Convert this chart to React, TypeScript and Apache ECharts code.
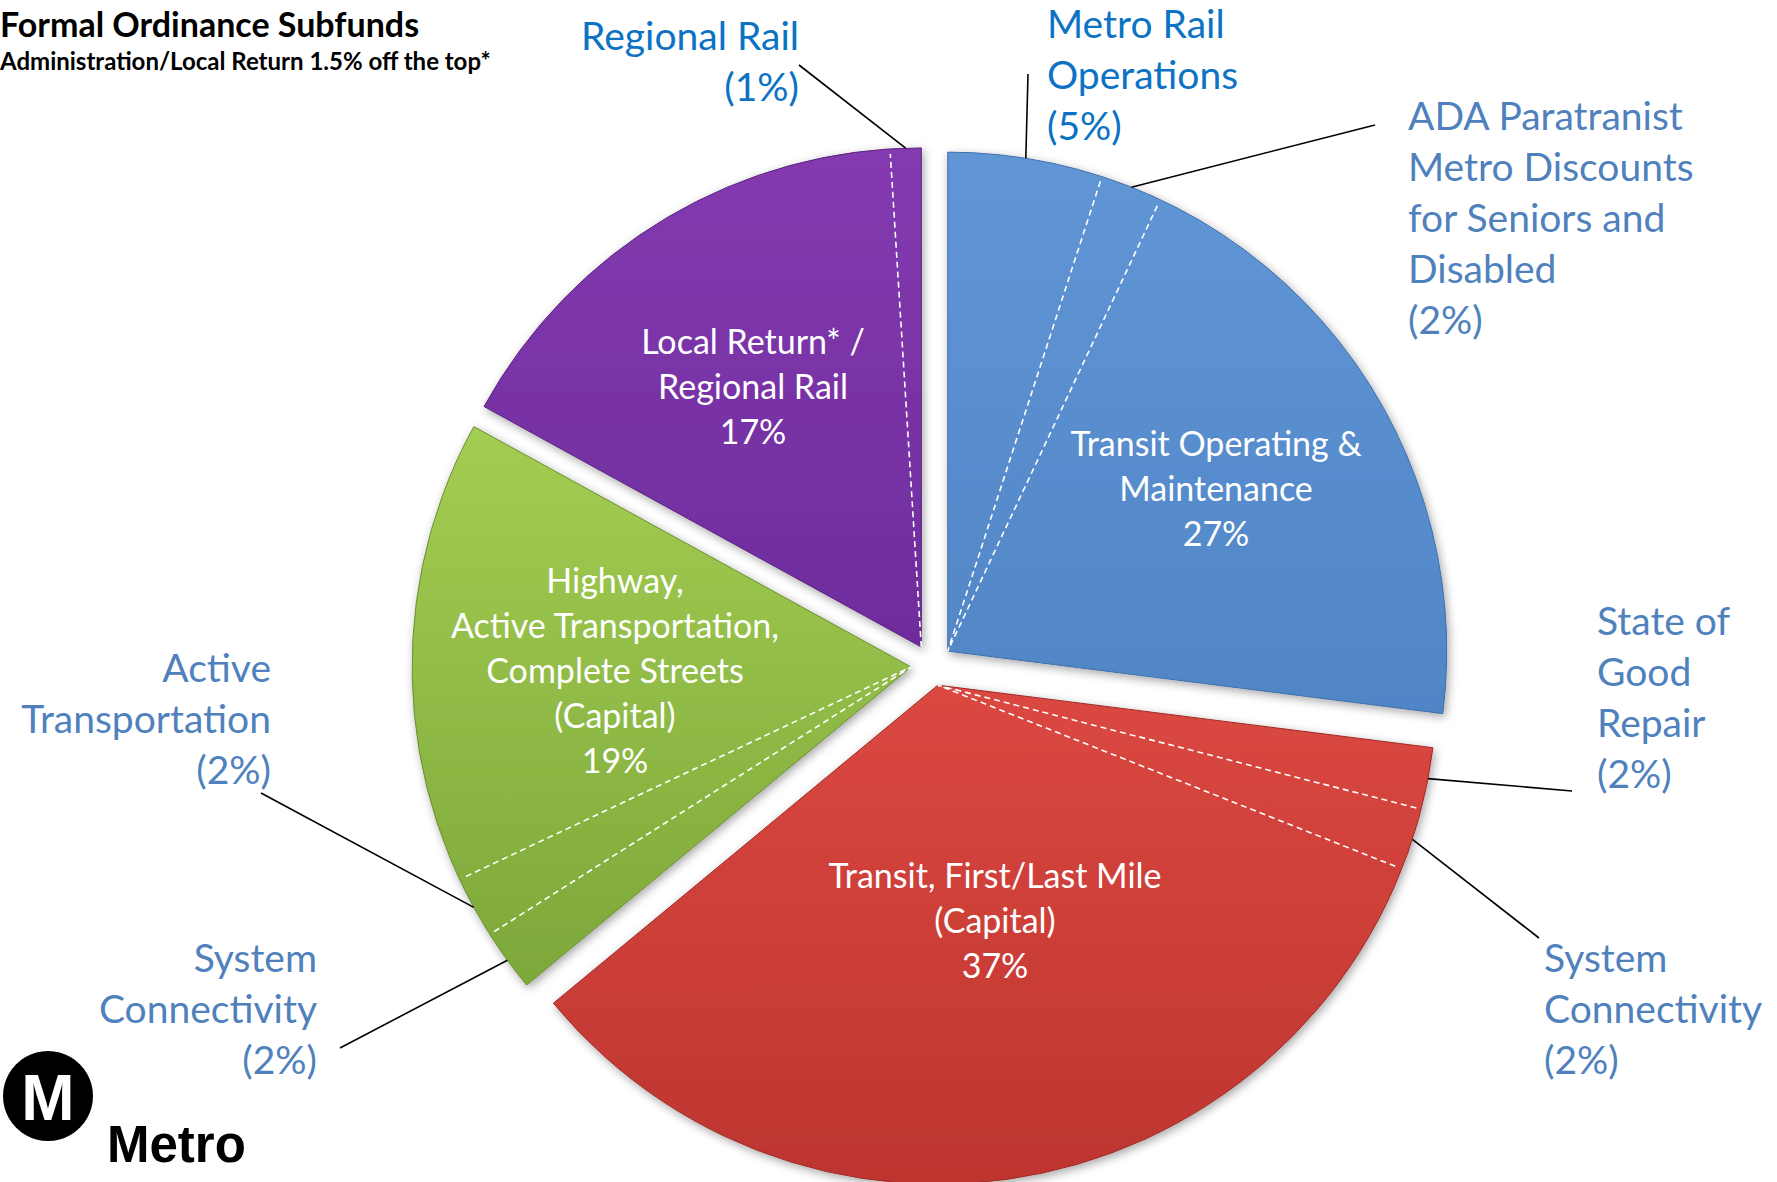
import React, { useEffect, useRef } from "react";
import * as echarts from "echarts";

// ---------- data ----------
const groupNames = [
  "Transit Operating &\nMaintenance",
  "Transit, First/Last Mile\n(Capital)",
  "Highway,\nActive Transportation,\nComplete Streets\n(Capital)",
  "Local Return* /\nRegional Rail",
];
const groupValues = [27, 37, 19, 17];

const subNames = [
  "Metro Rail Operations",
  "ADA Paratranist Metro Discounts for Seniors and Disabled",
  "Transit Operating & Maintenance (other)",
  "State of Good Repair",
  "System Connectivity",
  "Transit, First/Last Mile (other)",
  "System Connectivity",
  "Active Transportation",
  "Highway, Active Transportation, Complete Streets (other)",
  "Local Return (other)",
  "Regional Rail",
];
const subValues = [5, 2, 20, 2, 2, 33, 2, 2, 15, 16, 1];
const subGroup = [0, 0, 0, 1, 1, 1, 2, 2, 2, 3, 3];
// sub-slice that carries the group's inner label (-1 = none)
const subCarriesGroupLabel = [-1, -1, 0, -1, -1, 1, -1, -1, 2, 3, -1];
const calloutLabels = [
  "Metro Rail\nOperations\n(5%)",
  "ADA Paratranist\nMetro Discounts\nfor Seniors and\nDisabled\n(2%)",
  "",
  "State of\nGood\nRepair\n(2%)",
  "System\nConnectivity\n(2%)",
  "",
  "System\nConnectivity\n(2%)",
  "Active\nTransportation\n(2%)",
  "",
  "",
  "Regional Rail\n(1%)",
];

const titleText = "Formal Ordinance Subfunds";
const subtitleText = "Administration/Local Return 1.5% off the top*";

// ---------- layout / style ----------
const W = 1777;
const H = 1182;
const CX = 932;
const CY = 665;
const R = 499;
const EXPLODE = 21;
const FONT = "Lato, 'Open Sans', sans-serif";

const groupColors = [
  ["#6196D6", "#5085C6"],
  ["#DB4841", "#BD352F"],
  ["#A3CD52", "#7DA83A"],
  ["#843AB0", "#6E2C9C"],
];
const groupEdge = ["#3F6FA8", "#9E2C27", "#6A8F31", "#5A2280"];
const innerLabelPos = [
  [1216, 487],
  [995, 919],
  [615, 669],
  [753, 385],
];
const calloutColors = [
  "#0B72C4", "#4F81BD", "", "#4F81BD", "#4F81BD", "", "#4F81BD", "#4F81BD", "", "", "#0B72C4",
];
// [x, top y, align, leader end x, leader end y]
const calloutPos: any[] = [
  [1047, -3, "left", 1028, 74],
  [1408, 89, "left", 1375, 125],
  null,
  [1597, 594, "left", 1572, 791],
  [1544, 931, "left", 1539, 938],
  null,
  [317, 931, "right", 340, 1048],
  [271, 641, "right", 261, 793],
  null,
  null,
  [799, 9, "right", 799, 65],
];

export default function App() {
  const ref = useRef<HTMLDivElement>(null);

  useEffect(() => {
    document.body.style.margin = "0";
    document.body.style.background = "#ffffff";
    const chart = echarts.init(ref.current!, undefined, { renderer: "svg" });

    const total = groupValues.reduce((a, b) => a + b, 0);
    let acc = 0;
    const groupOffset = groupValues.map((v) => {
      const mid = acc + v / 2;
      acc += v;
      const a = ((-90 + (360 * mid) / total) * Math.PI) / 180;
      return [Math.cos(a) * EXPLODE, Math.sin(a) * EXPLODE];
    });

    // divider positions within each group (cumulative value)
    const dividers: number[][] = groupValues.map(() => []);
    let cum = 0;
    subValues.forEach((v, i) => {
      cum += v;
      if (i + 1 < subValues.length && subGroup[i + 1] === subGroup[i]) {
        dividers[subGroup[i]].push(cum);
      }
    });

    const dividerSeries = dividers.map((ds, g) => {
      let data: number[][];
      if (ds.length >= 2) {
        data = [[0.99, ds[0]], [0, ds[0]], [0.99, ds[1]]];
      } else {
        data = [[0, ds[0]], [0.99, ds[0]]];
      }
      return {
        type: "line",
        coordinateSystem: "polar",
        polarIndex: g,
        data,
        symbol: "none",
        silent: true,
        z: 5,
        lineStyle: { color: "#ffffff", width: 1.6, type: [6, 4] },
      };
    });

    const labelText = (i: number) => {
      const g = subCarriesGroupLabel[i];
      if (g >= 0) return `${groupNames[g]}\n${groupValues[g]}%`;
      return calloutLabels[i];
    };

    const option: any = {
      animation: false,
      backgroundColor: "#ffffff",
      polar: groupOffset.map((o) => ({ center: [CX + o[0], CY + o[1]], radius: R })),
      angleAxis: groupOffset.map((_, i) => ({
        polarIndex: i,
        type: "value",
        min: 0,
        max: total,
        startAngle: 90,
        clockwise: true,
        show: false,
      })),
      radiusAxis: groupOffset.map((_, i) => ({
        polarIndex: i,
        type: "value",
        min: 0,
        max: 1,
        show: false,
      })),
      graphic: [
        {
          type: "text",
          left: 0,
          top: 6,
          style: { text: titleText, font: `bold 34px ${FONT}`, fill: "#000" },
        },
        {
          type: "text",
          left: 0,
          top: 48,
          style: { text: subtitleText, font: `bold 24px ${FONT}`, fill: "#000" },
        },
        {
          type: "circle",
          shape: { cx: 48, cy: 1096, r: 45 },
          style: { fill: "#000" },
        },
        {
          type: "text",
          x: 48,
          y: 1098,
          style: {
            text: "M",
            font: "bold 64px 'Liberation Sans Narrow', 'Liberation Sans', sans-serif",
            fill: "#fff",
            align: "center",
            verticalAlign: "middle",
          },
        },
        {
          type: "text",
          x: 107,
          y: 1144,
          style: {
            text: "Metro",
            font: "bold 51px 'Liberation Sans', sans-serif",
            fill: "#000",
            verticalAlign: "middle",
          },
        },
      ],
      series: [
        {
          type: "pie",
          center: [CX, CY],
          radius: R,
          startAngle: 90,
          clockwise: true,
          selectedMode: "multiple",
          selectedOffset: EXPLODE,
          silent: true,
          z: 2,
          data: groupValues.map((v, i) => ({
            value: v,
            name: groupNames[i],
            selected: true,
            itemStyle: {
              color: new echarts.graphic.LinearGradient(0, 0, 0, 1, [
                { offset: 0, color: groupColors[i][0] },
                { offset: 1, color: groupColors[i][1] },
              ]),
              borderColor: groupEdge[i],
            },
          })),
          itemStyle: {
            borderWidth: 1,
            shadowBlur: 10,
            shadowColor: "rgba(0,0,0,0.35)",
            shadowOffsetX: 2,
            shadowOffsetY: 3,
          },
          select: { itemStyle: { borderWidth: 1 } },
          label: { show: false },
          labelLine: { show: false },
        },
        ...dividerSeries,
        {
          type: "pie",
          center: [CX, CY],
          radius: R,
          startAngle: 90,
          clockwise: true,
          silent: true,
          avoidLabelOverlap: false,
          z: 6,
          data: subValues.map((v, i) => {
            const isGroup = subCarriesGroupLabel[i] >= 0;
            const isCallout = calloutLabels[i] !== "";
            return {
              value: v,
              name: subNames[i],
              itemStyle: { color: "rgba(0,0,0,0)", borderWidth: 0 },
              label: isGroup
                ? { show: true, color: "#ffffff", fontSize: 34, lineHeight: 45 }
                : { show: isCallout, color: calloutColors[i] || "#4F81BD" },
              labelLine: { show: isCallout },
            };
          }),
          label: {
            position: "outside",
            formatter: (p: any) => labelText(p.dataIndex),
            fontFamily: FONT,
            fontSize: 39,
            lineHeight: 51,
            overflow: "none",
          },
          labelLine: {
            length: 10,
            length2: 10,
            lineStyle: { color: "#000000", width: 1.6 },
          },
          labelLayout: (p: any) => {
            const i = p.dataIndex;
            const g = subCarriesGroupLabel[i];
            if (g >= 0) {
              return {
                x: innerLabelPos[g][0],
                y: innerLabelPos[g][1],
                align: "center",
                verticalAlign: "middle",
              };
            }
            const pos = calloutPos[i];
            if (!pos) return {};
            const off = groupOffset[subGroup[i]];
            const s = p.labelLinePoints && p.labelLinePoints[0];
            const start = s ? [s[0] + off[0], s[1] + off[1]] : [pos[3], pos[4]];
            return {
              x: pos[0],
              y: pos[1],
              align: pos[2],
              verticalAlign: "top",
              labelLinePoints: [start, [pos[3], pos[4]]],
            };
          },
        },
      ],
    };

    chart.setOption(option);
    return () => chart.dispose();
  }, []);

  return <div ref={ref} style={{ width: W, height: H }} />;
}
